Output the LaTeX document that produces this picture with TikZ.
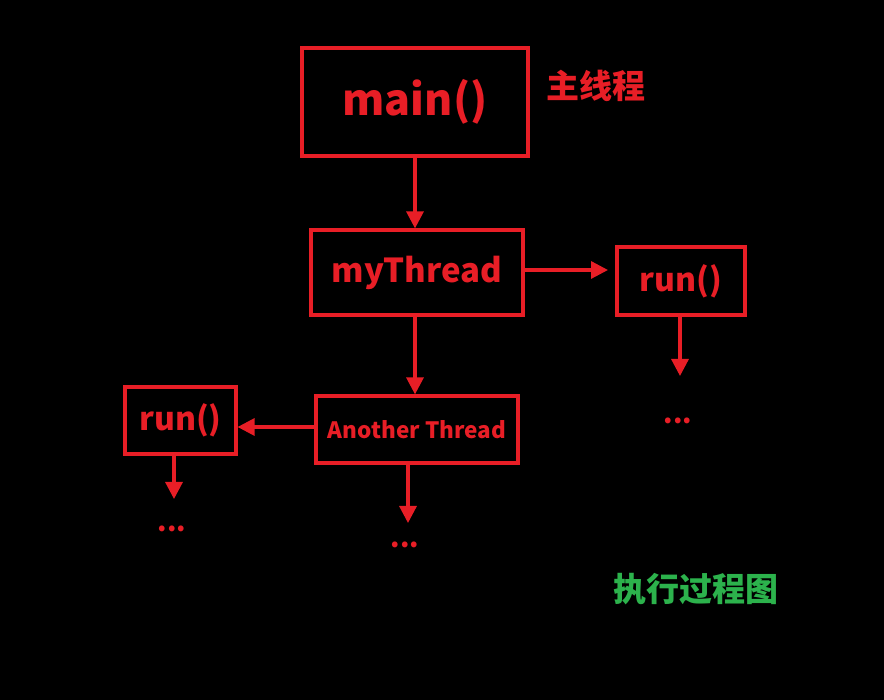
\documentclass[tikz,border=0pt]{standalone}
\usepackage{fontspec}
\setmainfont{Noto Sans CJK SC}
\usetikzlibrary{arrows.meta}
\definecolor{thred}{RGB}{232,30,38}
\definecolor{thgreen}{RGB}{44,178,76}
\tikzset{
  box/.style={draw=thred, line width=3.2pt, text=thred, font=\bfseries, inner sep=0pt},
  arr/.style={draw=thred, line width=3.2pt, -{Triangle[length=17pt,width=17pt]}},
  dots/.style={text=thred, font=\bfseries\fontsize{27}{27}\selectfont}
}
\begin{document}
\begin{tikzpicture}[x=1pt, y=-1pt]
    \fill[black] (0,0) rectangle (884,700);
    \useasboundingbox (0,0) rectangle (884,700);
    % boxes
    \node[box, minimum width=226pt, minimum height=108pt, font=\bfseries\fontsize{43}{43}\selectfont] (main) at (415,102) {main()};
    \node[box, minimum width=212pt, minimum height=85pt, font=\bfseries\fontsize{33}{33}\selectfont] (mythread) at (417,272.5) {myThread};
    \node[box, minimum width=128pt, minimum height=68pt, font=\bfseries\fontsize{32}{32}\selectfont] (runr) at (681,281) {run()};
    \node[box, minimum width=202pt, minimum height=67pt, font=\bfseries\fontsize{22.5}{22.5}\selectfont] (another) at (417,429.5) {Another Thread};
    \node[box, minimum width=111pt, minimum height=67pt, font=\bfseries\fontsize{32}{32}\selectfont] (runl) at (180.5,420.5) {run()};
    % labels
    \node[text=thred, font=\bfseries\fontsize{33}{33}\selectfont] (mainlbl) at (596,86) {主线程};
    \node[text=thgreen, font=\bfseries\fontsize{33}{33}\selectfont] (title) at (696,589) {执行过程图};
    % dots
    \node[dots] (dotsr) at (678,421) {...};
    \node[dots] (dotsl) at (172,529) {...};
    \node[dots] (dotsm) at (405,545) {...};
    % arrows
    \draw[arr] (main.south) -- (main.south |- mythread.north);
    \draw[arr] (mythread.east |- 0,270) -- (608,270);
    \draw[arr] (mythread.south -| main.south) -- (another.north -| main.south);
    \draw[arr] (680,316) -- (680,376);
    \draw[arr] (another.west |- 0,427) -- (runl.east |- 0,427);
    \draw[arr] (174,455) -- (174,499);
    \draw[arr] (408,464) -- (408,523);
\end{tikzpicture}
\end{document}
